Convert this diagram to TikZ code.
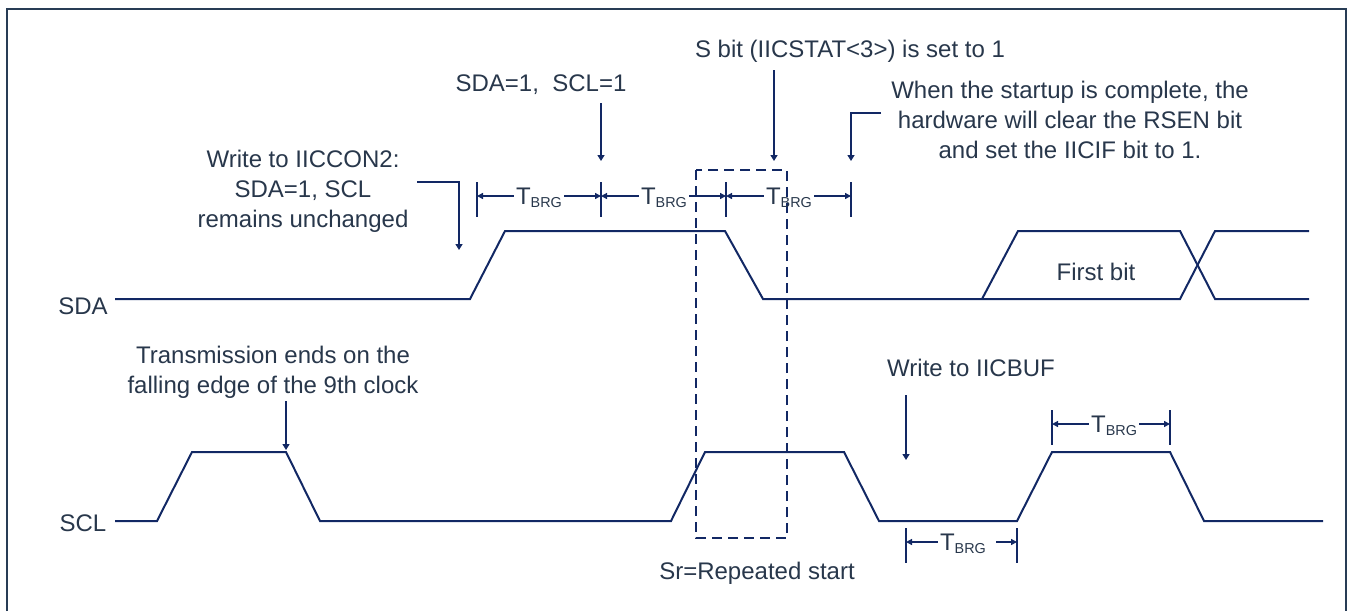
\documentclass[tikz,border=0pt]{standalone}
\usepackage{fontspec}
\setmainfont{Liberation Sans}
\usetikzlibrary{arrows.meta}
\definecolor{wavec}{RGB}{18,40,100}
\definecolor{txtc}{RGB}{40,55,75}
\definecolor{frmc}{RGB}{40,60,85}
\newcommand{\tbrg}{T{\fontsize{7.2}{8}\selectfont\raisebox{-1.6pt}{BRG}}}
\begin{document}
\begin{tikzpicture}[x=0.5pt,y=-0.5pt,
  sig/.style={draw=wavec,line width=1pt,line join=miter},
  lbl/.style={text=txtc,font=\fontsize{12}{15}\selectfont,align=center,inner sep=0pt},
  ptr/.style={draw=wavec,line width=0.7pt,-{Triangle[length=3pt,width=3.5pt]}},
  dimarrow/.style={draw=wavec,line width=0.7pt,-{Triangle[length=3pt,width=3pt]}},
  tickline/.style={draw=wavec,line width=0.75pt},
  tb/.style={text=txtc,font=\fontsize{12}{15}\selectfont,inner sep=1pt,anchor=base},
  srbox/.style={draw=wavec,line width=0.8pt,dash pattern=on 5pt off 3pt},
  frame/.style={draw=frmc,line width=1pt}]
\useasboundingbox (0,0) rectangle (1352,611);
% frame
\draw[frame] (7,611) -- (7,9) -- (1346,9) -- (1346,611);

% signal labels
\node[lbl] (sda) at (83,306) {SDA};
\node[lbl] (scl) at (83,523) {SCL};

% SDA waveform
\draw[sig] (115,299) -- (470,299) -- (505,231) -- (725,231) -- (763,299) -- (1180,299) -- (1215,231) -- (1309,231);
\draw[sig] (982,299) -- (1018,231) -- (1180,231) -- (1215,299) -- (1309,299);
\node[lbl] (fb) at (1096,272) {First bit};

% SCL waveform
\draw[sig] (115,521) -- (157,521) -- (192,452) -- (286,452) -- (320,521) -- (671,521) -- (705,452) -- (844,452) -- (879,521) -- (1017,521) -- (1052,452) -- (1170,452) -- (1204,521) -- (1323,521);

% repeated start box
\draw[srbox] (696,170) rectangle (787,538);
\node[lbl] (sr) at (757,573) {Sr=Repeated start};

% top annotations
\node[lbl] (sbit) at (850,51) {S bit (IICSTAT<3>) is set to 1};
\node[lbl] (sda1) at (541,85) {SDA=1,\ \ SCL=1};
\node[lbl] (done) at (1070,120) {When the startup is complete, the\\hardware will clear the RSEN bit\\and set the IICIF bit to 1.};
\node[lbl] (wcon) at (303,191) {Write to IICCON2:\\SDA=1, SCL\\remains unchanged};
\node[lbl] (tx) at (273,372) {Transmission ends on the\\falling edge of the 9th clock};
\node[lbl] (wbuf) at (971,368) {Write to IICBUF};

% pointer arrows
\coordinate (pa) at (601,103); \coordinate (pa2) at (601,161);
\draw[ptr] (pa) -- (pa2);
\coordinate (pb) at (774,70); \coordinate (pb2) at (774,161);
\draw[ptr] (pb) -- (pb2);
\coordinate (pc) at (881,113); \coordinate (pc2) at (851,161);
\draw[ptr] (pc) -- (pc |- pc) -| (pc2);
\coordinate (pd) at (417,182); \coordinate (pd2) at (459,250);
\draw[ptr] (pd) -| (pd2);
\coordinate (pe) at (286,401); \coordinate (pe2) at (286,450);
\draw[ptr] (pe) -- (pe2);
\coordinate (pf) at (906,395); \coordinate (pf2) at (906,460);
\draw[ptr] (pf) -- (pf2);

% top TBRG dimensions
\foreach \x/\n in {477/k1,601/k2,726/k3,851/k4}{
  \coordinate (\n) at (\x,196);
  \draw[tickline] (\x,182) -- (\x,217);
}
\node[tb] (t1) at (539,204.5) {\tbrg};
\node[tb] (t2) at (664,204.5) {\tbrg};
\node[tb] (t3) at (789,204.5) {\tbrg};
\draw[dimarrow] (t1.west |- k1) -- (k1);
\draw[dimarrow] (t1.east |- k2) -- (k2);
\draw[dimarrow] (t2.west |- k2) -- (k2);
\draw[dimarrow] (t2.east |- k3) -- (k3);
\draw[dimarrow] (t3.west |- k3) -- (k3);
\draw[dimarrow] (t3.east |- k4) -- (k4);

% SCL high TBRG
\coordinate (m1) at (1052,424); \coordinate (m2) at (1170,424);
\draw[tickline] (1052,410) -- (1052,445);
\draw[tickline] (1170,410) -- (1170,445);
\node[tb] (t4) at (1114,432.5) {\tbrg};
\draw[dimarrow] (t4.west |- m1) -- (m1);
\draw[dimarrow] (t4.east |- m2) -- (m2);

% SCL low TBRG
\coordinate (n1) at (906,542); \coordinate (n2) at (1017,542);
\draw[tickline] (906,528) -- (906,563);
\draw[tickline] (1017,528) -- (1017,563);
\node[tb] (t5) at (963,550.5) {\tbrg};
\draw[dimarrow] (t5.west |- n1) -- (n1);
\draw[dimarrow] ([xshift=4pt]t5.east |- n2) -- (n2);
\end{tikzpicture}
\end{document}
